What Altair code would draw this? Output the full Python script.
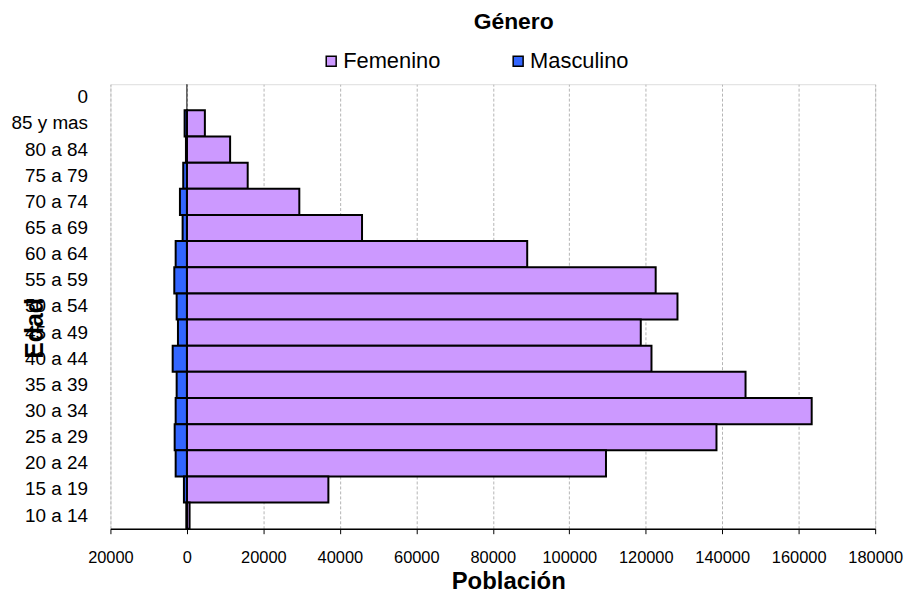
import altair as alt
import pandas as pd

edades = ["0", "85 y mas", "80 a 84", "75 a 79", "70 a 74", "65 a 69", "60 a 64",
          "55 a 59", "50 a 54", "45 a 49", "40 a 44", "35 a 39", "30 a 34",
          "25 a 29", "20 a 24", "15 a 19", "10 a 14"]
femenino = [0, 4700, 11300, 15900, 29400, 45800, 89000, 122600, 128300, 118700,
            121500, 146100, 163400, 138500, 109600, 37000, 700]
masculino = [0, -600, -250, -960, -1820, -1120, -2940, -3300, -2680, -2340,
             -3720, -2680, -2940, -3200, -2940, -780, -150]
generos = ["Femenino", "Masculino"]
colores = ["#CC99FF", "#3366FF"]
ticks = [-20000, 0, 20000, 40000, 60000, 80000, 100000, 120000, 140000, 160000, 180000]

rows = []
for e, f, m in zip(edades, femenino, masculino):
    if f != 0:
        rows.append({"Edad": e, "Género": "Femenino", "Población": f})
    if m != 0:
        rows.append({"Edad": e, "Género": "Masculino", "Población": m})
df = pd.DataFrame(rows)

FONT = "Liberation Sans"

x_enc = alt.X(
    "Población:Q", stack=None,
    scale=alt.Scale(domain=[-20000, 180000], nice=False, zero=False),
    axis=alt.Axis(
        values=ticks, labelExpr="format(abs(datum.value), 'd')",
        tickSize=5, tickColor="black", tickWidth=1,
        domainColor="black", domainWidth=1.5,
        labelFont=FONT, labelFontSize=16.5, labelColor="black", labelPadding=16,
        labelFlush=False, labelOverlap=False,
        grid=True, gridColor="#b4b4b4", gridDash=[3, 2], gridWidth=1,
        title="Población", titleFont=FONT, titleFontSize=24, titleFontWeight="bold",
        titleColor="black", titleX=400, titleY=60, titleBaseline="alphabetic",
        titleAlign="center",
    ),
)

y_enc = alt.Y(
    "Edad:N", sort=edades,
    scale=alt.Scale(domain=edades, paddingInner=0, paddingOuter=0),
    axis=alt.Axis(
        ticks=False, domain=False, grid=False,
        labelFont=FONT, labelFontSize=19, labelColor="black", labelPadding=23,
        title="Edad", titleFont=FONT, titleFontSize=25, titleFontWeight="bold",
        titleColor="black", titleX=-68, titleY=245, titleBaseline="alphabetic",
        titleAngle=270,
    ),
)

rule = alt.Chart(pd.DataFrame({"Población": [0]})).mark_rule(
    color="black", strokeWidth=1
).encode(x=x_enc)

bars = alt.Chart(df).mark_bar(stroke="black", strokeWidth=2, opacity=1).encode(
    x=x_enc,
    y=y_enc,
    color=alt.Color(
        "Género:N",
        scale=alt.Scale(domain=generos, range=colores),
        legend=alt.Legend(
            title=None, orient="none", legendX=211, legendY=-34,
            direction="horizontal", symbolType="square", symbolSize=100,
            symbolStrokeColor="black", symbolStrokeWidth=1.5, symbolOpacity=1,
            labelFont=FONT, labelFontSize=22, labelColor="black", labelOffset=1,
            columnPadding=67,
        ),
    ),
)

chart = alt.layer(rule, bars).properties(
    width=769, height=447,
    padding={"left": 103, "top": 75, "right": 29, "bottom": 63},
    autosize=alt.AutoSizeParams(type="none"),
    title=alt.TitleParams(
        "Género", font=FONT, fontSize=23, fontWeight="bold", color="black",
        anchor="middle", frame="group", dx=21, dy=22, baseline="alphabetic", offset=21,
    ),
).configure_view(stroke="#808080", strokeWidth=2).configure(background="white")

chart.save("out.html", embed_options={"renderer": "svg", "actions": False})
